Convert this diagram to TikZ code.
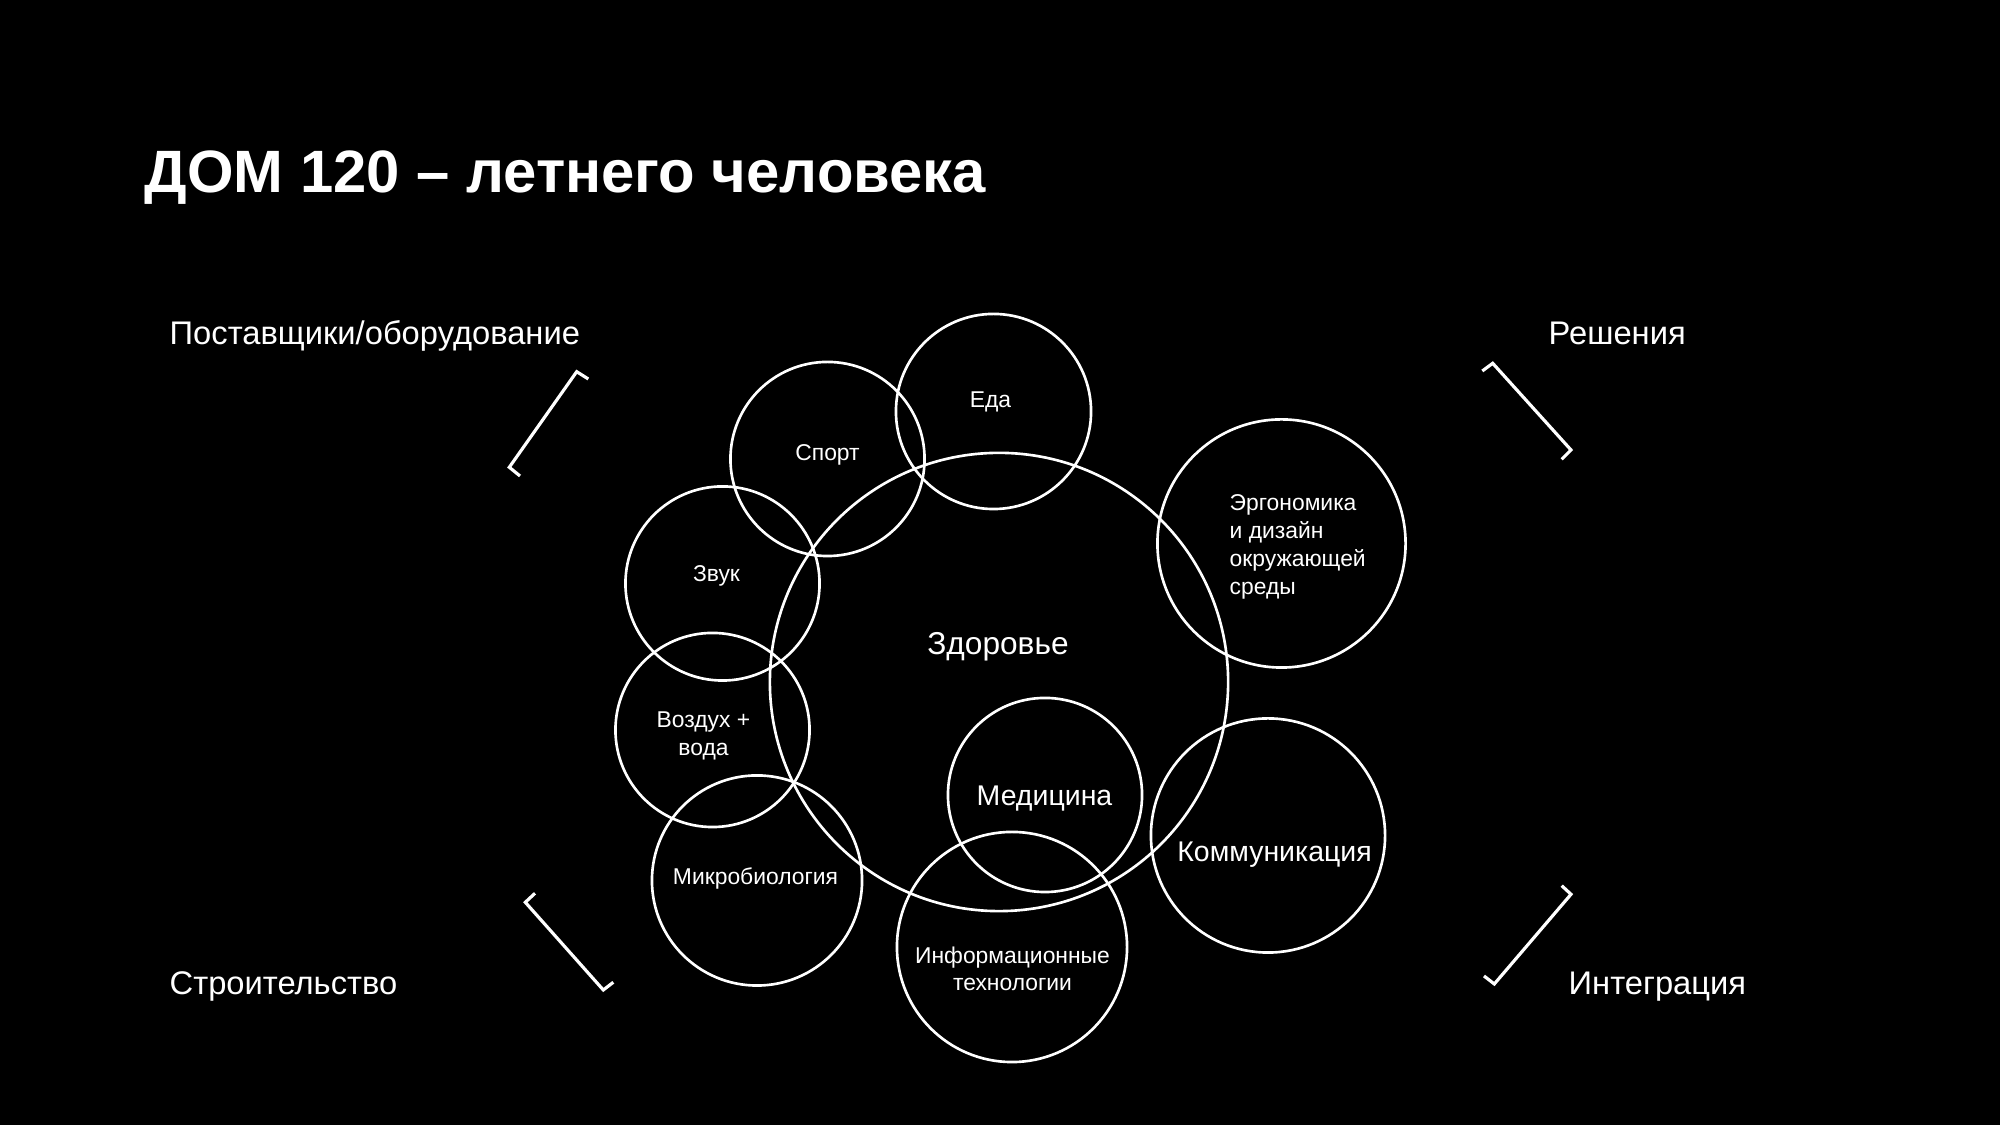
\documentclass[tikz,border=0pt]{standalone}
\usepackage{fontspec}
\setmainfont{Liberation Sans}

\begin{document}
\begin{tikzpicture} [x=0.01cm, y=0.01cm,
	ring/.style = {draw=white, circle, line width=0.75pt, minimum size=#1, inner sep=0pt},
	lbl/.style = {text=white, align=center, anchor=base, inner sep=0pt},
	small/.style = {lbl, font=\fontsize{6.5}{8}\selectfont},
	mid/.style = {lbl, font=\fontsize{8.1}{9.5}\selectfont},
	side/.style = {lbl, font=\fontsize{9.3}{10}\selectfont},
	brk/.style = {draw=white, line width=0.9pt}]
	%\draw [thin, help lines] (0,0) grid[step=100] (2000,1125);
	\fill[black] (0,0) rectangle (2000,1125);
	\useasboundingbox (0,0) rectangle (2000,1125);

	\node[lbl, anchor=base west, font=\bfseries\fontsize{17}{18}\selectfont] (title) at (144,932) {ДОМ 120 – летнего человека};

	\node[side, anchor=base west] (postav) at (169,780) {Поставщики/оборудование};
	\node[side, anchor=base west] (resh) at (1548,780) {Решения};
	\node[side, anchor=base west] (stroi) at (169,130) {Строительство};
	\node[side, anchor=base west] (integr) at (1568,130) {Интеграция};

	\draw[brk] (588.3,746) -- (576.7,753.3) -- (509.3,657.7) -- (520,649);
	\draw[brk] (1482.3,754) -- (1492.7,761.7) -- (1571,675) -- (1561.7,665.7);
	\draw[brk] (535,231.7) -- (525.3,222.7) -- (603.3,135) -- (613.3,142.7);
	\draw[brk] (1561.7,239.3) -- (1571,230.7) -- (1494.3,141) -- (1484,149);

	\node[ring=4.58cm] (zdorovie) at (999,443) {};
	\node[ring=1.95cm] (eda) at (993.5,713.5) {};
	\node[ring=1.94cm] (sport) at (827.5,666) {};
	\node[ring=1.94cm] (zvuk) at (722.5,541.5) {};
	\node[ring=1.94cm] (vozduh) at (712.5,395) {};
	\node[ring=2.1cm] (mikro) at (757,244.5) {};
	\node[ring=1.94cm] (medic) at (1045,330) {};
	\node[ring=2.3cm] (infoteh) at (1012,178) {};
	\node[ring=2.34cm] (kommun) at (1268,289.5) {};
	\node[ring=2.48cm] (ergo) at (1281.5,581.5) {};

	\node[lbl, font=\fontsize{9}{10}\selectfont] (t-zdorovie) at (998,470) {Здоровье};
	\node[small] (t-eda) at (990.5,717) {Еда};
	\node[small] (t-sport) at (827.5,664) {Спорт};
	\node[small] (t-zvuk) at (716.5,543) {Звук};
	\node[small] (t-vozduh) at (703.5,369) {Воздух +\\вода};
	\node[small] (t-mikro) at (755.5,240) {Микробиология};
	\node[mid] (t-medic) at (1044.5,319) {Медицина};
	\node[small, font=\fontsize{6.5}{7.7}\selectfont] (t-infoteh) at (1012.5,134) {Информационные\\технологии};
	\node[mid] (t-kommun) at (1274.5,263) {Коммуникация};
	\node[small, align=left, anchor=base west] (t-ergo) at (1229,530) {Эргономика\\и дизайн\\окружающей\\среды};
\end{tikzpicture}
\end{document}
